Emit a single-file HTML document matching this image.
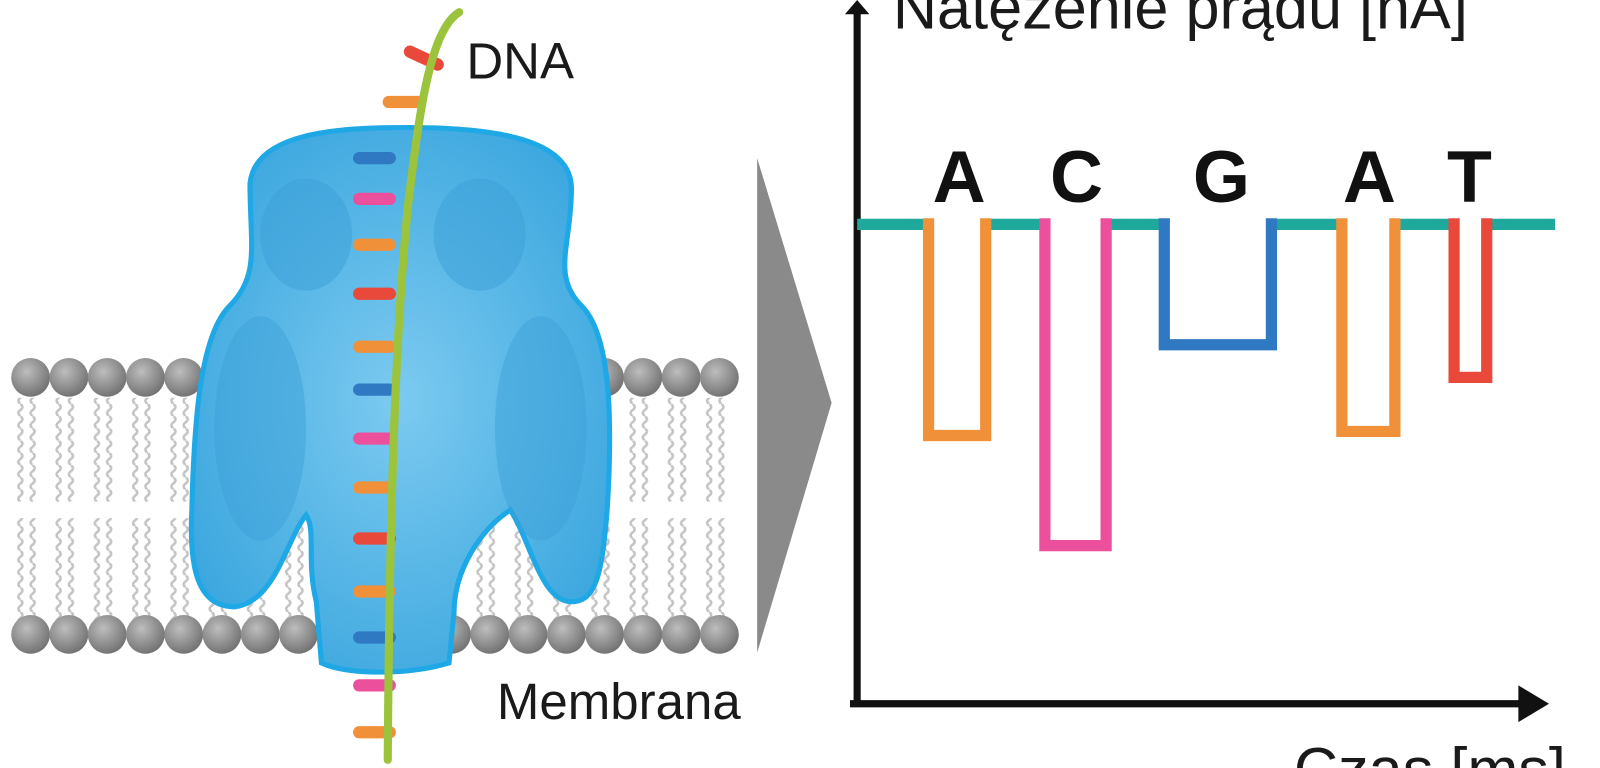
<!DOCTYPE html>
<html><head><meta charset="utf-8"><style>
html,body{margin:0;padding:0;background:#fff;width:1600px;height:768px;overflow:hidden}
svg{display:block}
text{font-family:"Liberation Sans",sans-serif}
</style></head><body>
<svg id="s" width="1600" height="768" viewBox="0 0 1568 753" preserveAspectRatio="none" xmlns="http://www.w3.org/2000/svg">
<defs>
<radialGradient id="hg" cx="0.4" cy="0.35" r="0.7"><stop offset="0" stop-color="#bdbdbd"/><stop offset="1" stop-color="#6e6e6e"/></radialGradient>
<pattern id="tails" x="12" y="0" width="37.5" height="12" patternUnits="userSpaceOnUse">
<path d="M8,0 q4,3 0,6 q-4,3 0,6 M20,0 q4,3 0,6 q-4,3 0,6" fill="none" stroke="#c4c4c4" stroke-width="2.5"/>
</pattern>
<radialGradient id="pg" cx="0.5" cy="0.5" r="0.6"><stop offset="0" stop-color="#7ccaf0"/><stop offset="1" stop-color="#3aa6de"/></radialGradient>
</defs>
<rect x="12" y="390" width="705" height="102" fill="url(#tails)"/>
<rect x="12" y="508" width="705" height="102" fill="url(#tails)"/>
<g id="heads"></g>
<path d="M245,180 C250,130 330,125 400,125 C480,125 560,135 560,185 C560,240 540,270 570,300 C600,330 600,420 595,500 C590,560 585,590 560,590 C530,590 520,530 500,500 C470,520 445,560 445,600 L440,650 C400,662 340,662 315,650 L310,590 C300,550 310,520 300,505 C280,530 270,590 230,595 C195,595 185,560 188,500 C190,420 195,330 225,300 C255,270 245,240 245,180 Z" fill="url(#pg)" stroke="#1ea8e6" stroke-width="5"/>
<ellipse cx="300" cy="230" rx="45" ry="55" fill="#3b9fd8" opacity="0.5"/>
<ellipse cx="470" cy="230" rx="45" ry="55" fill="#3b9fd8" opacity="0.5"/>
<ellipse cx="255" cy="420" rx="45" ry="110" fill="#3b9fd8" opacity="0.45"/>
<ellipse cx="530" cy="420" rx="45" ry="110" fill="#3b9fd8" opacity="0.45"/>
<g id="bases"></g>
<path d="M450,12 C420,30 410,120 400,200 C390,300 382,450 380,745" fill="none" stroke="#9bc43c" stroke-width="8" stroke-linecap="round"/>
<text x="457" y="77" font-size="50" fill="#1a1a1a">DNA</text>
<text x="487" y="705" font-size="50" fill="#1a1a1a">Membrana</text>
<polygon points="742,155 815,395 742,640" fill="#8a8a8a"/>
<line x1="840" y1="10" x2="840" y2="690" stroke="#111" stroke-width="7"/>
<polygon points="840,0 828,14 852,14" fill="#111"/>
<line x1="833" y1="690" x2="1490" y2="690" stroke="#111" stroke-width="7"/>
<polygon points="1518,690 1488,672 1488,708" fill="#111"/>
<text x="875" y="28" font-size="60" fill="#1a1a1a">Natężenie prądu [nA]</text>
<text x="1268" y="775" font-size="60" fill="#1a1a1a">Czas [ms]</text>
<g font-size="72" font-weight="bold" fill="#111" text-anchor="middle">
<text x="940" y="198">A</text><text x="1055" y="198">C</text><text x="1197" y="198">G</text><text x="1342" y="198">A</text><text x="1440" y="198">T</text>
</g>
<g fill="none" stroke-width="11">
<path d="M840,220 H905 M970,220 H1020 M1088,220 H1137 M1250,220 H1310 M1372,220 H1420 M1462,220 H1524" stroke="#1fa89c"/>
<path d="M910,214 V427 H966 V214" stroke="#f0913a"/>
<path d="M1024,214 V535 H1084 V214" stroke="#ec4f9c"/>
<path d="M1141,214 V338 H1246 V214" stroke="#2f78c2"/>
<path d="M1315,214 V423 H1367 V214" stroke="#f0913a"/>
<path d="M1425,214 V370 H1457 V214" stroke="#e8493a"/>
</g>
</svg>
<script>
var ns="http://www.w3.org/2000/svg";
var h=document.getElementById("heads");
for(var i=0;i<19;i++){[370,622].forEach(function(y){var c=document.createElementNS(ns,"circle");c.setAttribute("cx",30+i*37.5);c.setAttribute("cy",y);c.setAttribute("r",19);c.setAttribute("fill","url(#hg)");h.appendChild(c);});}
var b=document.getElementById("bases");
var cols={r:"#e8493a",o:"#f0913a",b:"#2f78c2",p:"#ec4f9c"};
var L=[[57,"r"],[100,"o"],[155,"b"],[195,"p"],[240,"o"],[288,"r"],[340,"o"],[382,"b"],[430,"p"],[478,"o"],[528,"r"],[580,"o"],[625,"b"],[672,"p"],[718,"o"]];
L.forEach(function(a){var r=document.createElementNS(ns,"rect");var x=a[0]<120?370+(120-a[0])*0.45:350;r.setAttribute("x",x-4);r.setAttribute("y",a[0]-6);r.setAttribute("width",42);r.setAttribute("height",12);r.setAttribute("rx",6);r.setAttribute("fill",cols[a[1]]);if(a[0]==57)r.setAttribute("transform","rotate(25 "+(x+17)+" 57)");b.appendChild(r);});
</script>
</body></html>
